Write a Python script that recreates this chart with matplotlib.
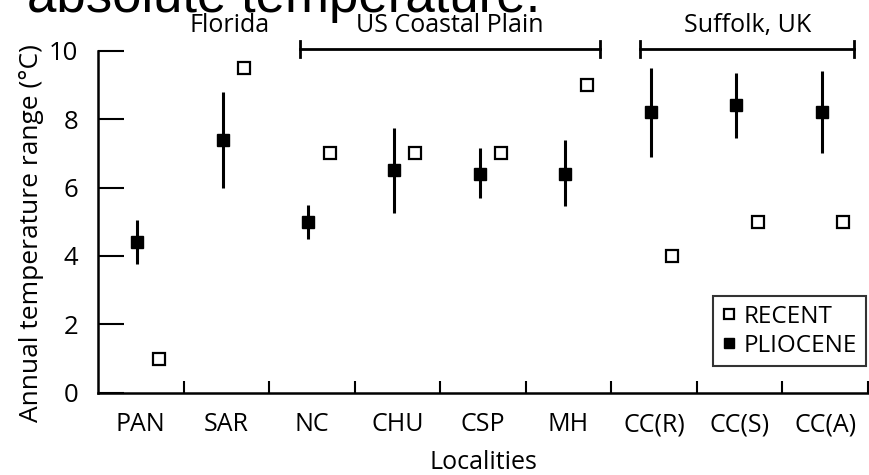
import matplotlib
matplotlib.use("Agg")
import matplotlib.pyplot as plt
import numpy as np

localities = ["PAN", "SAR", "NC", "CHU", "CSP", "MH", "CC(R)", "CC(S)", "CC(A)"]
pliocene = [4.4, 7.4, 5.0, 6.5, 6.4, 6.4, 8.2, 8.4, 8.2]
plio_low = [3.75, 6.0, 4.5, 5.25, 5.7, 5.45, 6.9, 7.45, 7.0]
plio_high = [5.05, 8.8, 5.5, 7.75, 7.15, 7.4, 9.5, 9.35, 9.4]
recent = [1.0, 9.5, 7.0, 7.0, 7.0, 9.0, 4.0, 5.0, 5.0]
y_ticks = [0, 2, 4, 6, 8, 10]
groups = ["Florida", "US Coastal Plain", "Suffolk, UK"]

plt.rcParams['font.family'] = ['Open Sans', 'DejaVu Sans']

fig = plt.figure(figsize=(8.7, 4.75), dpi=100)
ax = fig.add_axes([98/870, 82.3/475, 770/870, 342/475])

idx = np.arange(len(localities))
x_plio = idx + 0.46
x_rec = idx + 0.71
plio = np.array(pliocene)
lo = plio - np.array(plio_low)
hi = np.array(plio_high) - plio

ax.errorbar(x_plio, plio, yerr=[lo, hi], fmt='none', ecolor='black', elinewidth=2.2, capsize=0)
ax.plot(x_plio, plio, ls='none', marker='s', ms=8, mfc='black', mec='black', label='PLIOCENE')
ax.plot(x_rec, recent, ls='none', marker='s', ms=8, mfc='white', mec='black', mew=1.6, label='RECENT')

ax.set_xlim(0, 9)
ax.set_ylim(0, 10)
ax.set_yticks(y_ticks)
ax.set_yticklabels([str(v) for v in y_ticks], fontsize=18.5)
ax.set_xticks(np.arange(1, 10))
ax.set_xticklabels([])
ax.tick_params(axis='y', direction='in', length=19, width=1.5, pad=14)
ax.tick_params(axis='x', direction='in', length=9, width=1.5)
for i, name in enumerate(localities):
    ax.text(i + 0.5, -0.57, name, ha='center', va='top', fontsize=18)

for s in ['top', 'right']:
    ax.spines[s].set_visible(False)
for s in ['left', 'bottom']:
    ax.spines[s].set_linewidth(1.8)

ax.set_ylabel("Annual temperature range (°C)", fontsize=19)
ax.yaxis.set_label_coords(-0.070, 0.467)
ax.text(4.5, -1.68, "Localities", ha='center', va='top', fontsize=18)

# group brackets
yb = 10.05
ax.text(1.54, 10.55, groups[0], ha='center', va='baseline', fontsize=18, clip_on=False)
for (x0, x1, name) in [(2.36, 5.87, groups[1]), (6.34, 8.84, groups[2])]:
    ax.plot([x0, x1], [yb, yb], color='black', lw=2, clip_on=False)
    ax.plot([x0, x0], [yb - 0.22, yb + 0.22], color='black', lw=2, clip_on=False)
    ax.plot([x1, x1], [yb - 0.22, yb + 0.22], color='black', lw=2, clip_on=False)
    ax.text((x0 + x1) / 2, 10.55, name, ha='center', va='baseline', fontsize=18, clip_on=False)

h, l = ax.get_legend_handles_labels()
leg = ax.legend([h[1], h[0]], [l[1], l[0]], loc='lower right', bbox_to_anchor=(0.997, 0.078),
                borderaxespad=0, fontsize=17.5, frameon=True, fancybox=False, edgecolor='black',
                handlelength=0.6, handletextpad=0.3, borderpad=0.35, labelspacing=0.2,
                markerscale=0.9)
leg.get_frame().set_linewidth(1.5)

fig.text(27/870, 1 - 12/475, "absolute temperature.", ha='left', va='baseline',
         fontsize=38, family=['Liberation Sans', 'DejaVu Sans'])

fig.savefig("out.png", dpi=100)
